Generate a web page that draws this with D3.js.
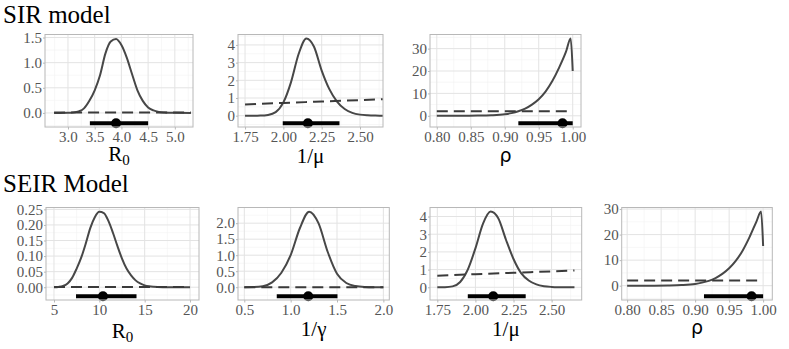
<!DOCTYPE html>
<html lang="en">
<head>
<meta charset="UTF-8">
<title>SIR / SEIR posteriors</title>
<script src="https://d3js.org/d3.v7.min.js"></script>
<style>
  body { margin: 0; background: #fff; }
  svg text { font-family: "Liberation Serif", "DejaVu Serif", serif; }
</style>
</head>
<body>
<svg id="chart" width="789" height="349" font-family="Liberation Serif, serif"></svg>
<script>
// ---- data: [x, density] ----
const sirR0Post = [[2.74,0],[3.0,0.002],[3.1,0.008],[3.2,0.03],[3.3,0.09],[3.4,0.24],[3.5,0.45],[3.6,0.75],[3.7,1.18],[3.8,1.42],[3.9,1.47],[4.0,1.35],[4.1,1.1],[4.2,0.77],[4.3,0.45],[4.4,0.24],[4.5,0.11],[4.6,0.05],[4.7,0.02],[4.8,0.008],[4.9,0.003],[5.0,0.001],[5.3,0]];
const sirR0Prior = [[2.74,0.01],[4.0,0.01],[5.3,0.01]];
const sirR0Int = [3.41, 3.90, 4.50];   // lower, point, upper

const sirMuPost = [[1.75,0],[1.80,0.001],[1.85,0.005],[1.90,0.04],[1.95,0.2],[2.00,0.75],[2.05,1.9],[2.10,3.5],[2.15,4.37],[2.20,3.9],[2.25,2.55],[2.30,1.5],[2.35,0.8],[2.40,0.38],[2.45,0.16],[2.50,0.06],[2.55,0.02],[2.60,0.005],[2.65,0.001]];
const sirMuPrior = [[1.75,0.63],[2.0,0.72],[2.25,0.8],[2.5,0.88],[2.65,0.93]];
const sirMuInt = [1.996, 2.16, 2.366];

const sirRhoPost = [[0.80,0],[0.84,0.02],[0.86,0.08],[0.88,0.25],[0.90,0.7],[0.91,1.2],[0.92,2.0],[0.93,3.2],[0.94,5.0],[0.95,7.4],[0.96,10.8],[0.97,15.5],[0.98,21.5],[0.99,28.5],[0.997,34.5],[1.0,20]];
const sirRhoPrior = [[0.80,2],[0.90,2],[1.0,2]];
const sirRhoInt = [0.92, 0.985, 1.0];

const seirR0Post = [[5,0],[5.5,0.001],[6,0.004],[6.5,0.012],[7,0.03],[7.5,0.06],[8,0.095],[8.5,0.14],[9,0.19],[9.5,0.225],[10,0.242],[10.5,0.238],[11,0.213],[11.5,0.175],[12,0.132],[12.5,0.092],[13,0.06],[13.5,0.038],[14,0.022],[14.5,0.012],[15,0.006],[15.5,0.003],[16,0.0015],[17,0.0003],[18,0],[20,0]];
const seirR0Prior = [[5,0.001],[12.5,0.001],[20,0.001]];
const seirR0Int = [7.43, 10.4, 14.1];

const seirGamPost = [[0.5,0],[0.6,0.003],[0.7,0.03],[0.8,0.15],[0.9,0.45],[1.0,1.0],[1.1,1.85],[1.2,2.36],[1.3,2.0],[1.4,1.1],[1.5,0.42],[1.6,0.13],[1.7,0.035],[1.8,0.008],[1.9,0.001],[2.0,0]];
const seirGamPrior = [[0.5,0.002],[1.25,0.002],[2.0,0.002]];
const seirGamInt = [0.85, 1.19, 1.505];

const seirMuPost = [[1.75,0],[1.80,0.005],[1.85,0.05],[1.90,0.3],[1.95,1.0],[2.00,2.2],[2.05,3.6],[2.10,4.28],[2.15,3.9],[2.20,2.7],[2.25,1.6],[2.30,0.8],[2.35,0.38],[2.40,0.16],[2.45,0.06],[2.50,0.02],[2.55,0.006],[2.60,0.002],[2.65,0]];
const seirMuPrior = [[1.75,0.65],[2.0,0.74],[2.25,0.82],[2.5,0.9],[2.65,0.95]];
const seirMuInt = [1.95, 2.117, 2.33];

const seirRhoPost = [[0.80,0],[0.84,0.02],[0.86,0.08],[0.88,0.25],[0.90,0.7],[0.91,1.2],[0.92,1.9],[0.93,3.0],[0.94,4.6],[0.95,6.8],[0.96,9.8],[0.97,13.8],[0.98,19],[0.99,25],[0.997,29],[1.0,15.5]];
const seirRhoPrior = [[0.80,2],[0.90,2],[1.0,2]];
const seirRhoInt = [0.913, 0.983, 1.0];

// ---- tick labels ----
const r0SirXTicks = [3.0, 3.5, 4.0, 4.5, 5.0];
const r0SirYTicks = [0.0, 0.5, 1.0, 1.5];
const muXTicks = [1.75, 2.00, 2.25, 2.50];
const muYTicks = [0, 1, 2, 3, 4];
const rhoXTicks = [0.80, 0.85, 0.90, 0.95, 1.00];
const rhoYTicks = [0, 10, 20, 30];
const r0SeirXTicks = [5, 10, 15, 20];
const r0SeirYTicks = [0.00, 0.05, 0.10, 0.15, 0.20, 0.25];
const gamXTicks = [0.5, 1.0, 1.5, 2.0];
const gamYTicks = [0.0, 0.5, 1.0, 1.5, 2.0];

const titles = ["SIR model", "SEIR Model"];

const serif = '"Liberation Serif", "DejaVu Serif", serif';

// ---- panel layout (box = left, top, right, bottom; lab = title offset below panel) ----
const panels = [
  { post: sirR0Post, prior: sirR0Prior, int: sirR0Int, xd: [2.57, 5.34], yd: [-0.28, 1.56],
    xt: r0SirXTicks, yt: r0SirYTicks, xf: ".1f", yf: ".1f", label: "R0", box: [45, 34.5, 193, 127], lab: 34 },
  { post: sirMuPost, prior: sirMuPrior, int: sirMuInt, xd: [1.704, 2.65], yd: [-0.64, 4.59],
    xt: muXTicks, yt: muYTicks, xf: ".2f", yf: "d", label: "1/μ", box: [238, 34.5, 383, 127], lab: 36 },
  { post: sirRhoPost, prior: sirRhoPrior, int: sirRhoInt, xd: [0.790, 1.0122], yd: [-5.0, 36.3],
    xt: rhoXTicks, yt: rhoYTicks, xf: ".2f", yf: "d", label: "ρ", box: [430, 34.5, 581, 127], lab: 35 },
  { post: seirR0Post, prior: seirR0Prior, int: seirR0Int, xd: [4.12, 20.99], yd: [-0.041, 0.256],
    xt: r0SeirXTicks, yt: r0SeirYTicks, xf: "d", yf: ".2f", label: "R0", box: [46, 207.5, 199, 300], lab: 38 },
  { post: seirGamPost, prior: seirGamPrior, int: seirGamInt, xd: [0.432, 2.064], yd: [-0.40, 2.49],
    xt: gamXTicks, yt: gamYTicks, xf: ".1f", yf: ".1f", label: "1/γ", box: [238, 207.5, 389.3, 300], lab: 36 },
  { post: seirMuPost, prior: seirMuPrior, int: seirMuInt, xd: [1.702, 2.6975], yd: [-0.72, 4.51],
    xt: muXTicks, yt: muYTicks, xf: ".2f", yf: "d", label: "1/μ", box: [430, 207.5, 581.7, 300], lab: 36 },
  { post: seirRhoPost, prior: seirRhoPrior, int: seirRhoInt, xd: [0.792, 1.0135], yd: [-5.6, 30.6],
    xt: rhoXTicks, yt: rhoYTicks, xf: ".2f", yf: "d", label: "ρ", box: [621.7, 207.5, 772.3, 300], lab: 34 }
];

const svg = d3.select("#chart");

// row titles
svg.append("text").attr("x", 3).attr("y", 23).text(titles[0])
  .style("font-family", serif).style("font-size", "25px").attr("fill", "#000");
svg.append("text").attr("x", 3).attr("y", 192).text(titles[1])
  .style("font-family", serif).style("font-size", "25px").attr("fill", "#000");

function minorTicks(ticks, domain) {
  const step = ticks[1] - ticks[0];
  const out = [ticks[0] - step / 2];
  ticks.forEach(t => out.push(t + step / 2));
  return out.filter(v => v > domain[0] && v < domain[1]);
}

panels.forEach(p => {
  const [l, t, r, b] = p.box;
  const x = d3.scaleLinear().domain(p.xd).range([l, r]);
  const y = d3.scaleLinear().domain(p.yd).range([b, t]);
  const g = svg.append("g");

  // grid: minor then major
  const grid = g.append("g");
  minorTicks(p.xt, p.xd).forEach(v => grid.append("line")
    .attr("x1", x(v)).attr("x2", x(v)).attr("y1", t).attr("y2", b)
    .attr("stroke", "#f2f2f2").attr("stroke-width", 0.6));
  minorTicks(p.yt, p.yd).forEach(v => grid.append("line")
    .attr("y1", y(v)).attr("y2", y(v)).attr("x1", l).attr("x2", r)
    .attr("stroke", "#f2f2f2").attr("stroke-width", 0.6));
  p.xt.forEach(v => grid.append("line")
    .attr("x1", x(v)).attr("x2", x(v)).attr("y1", t).attr("y2", b)
    .attr("stroke", "#e3e3e3").attr("stroke-width", 1));
  p.yt.forEach(v => grid.append("line")
    .attr("y1", y(v)).attr("y2", y(v)).attr("x1", l).attr("x2", r)
    .attr("stroke", "#e3e3e3").attr("stroke-width", 1));

  const line = d3.line().x(d => x(d[0])).y(d => y(d[1])).curve(d3.curveMonotoneX);

  // posterior density
  g.append("path").datum(p.post).attr("d", line)
    .attr("fill", "none").attr("stroke", "#474747").attr("stroke-width", 2);
  // prior density
  g.append("path").datum(p.prior).attr("d", line)
    .attr("fill", "none").attr("stroke", "#3a3a3a").attr("stroke-width", 2)
    .attr("stroke-dasharray", "11,6");

  // point interval
  const iy = b - 3.8;
  g.append("line").attr("x1", x(p.int[0])).attr("x2", x(p.int[2]))
    .attr("y1", iy).attr("y2", iy).attr("stroke", "#000").attr("stroke-width", 4);
  g.append("circle").attr("cx", x(p.int[1])).attr("cy", iy).attr("r", 5).attr("fill", "#000");

  // panel border
  g.append("rect").attr("x", l).attr("y", t).attr("width", r - l).attr("height", b - t)
    .attr("fill", "none").attr("stroke", "#b8b8b8").attr("stroke-width", 1);

  // axes
  const xa = g.append("g").attr("transform", `translate(0,${b})`)
    .call(d3.axisBottom(x).tickValues(p.xt).tickFormat(d3.format(p.xf)).tickSize(2.5).tickPadding(1.5));
  const ya = g.append("g").attr("transform", `translate(${l},0)`)
    .call(d3.axisLeft(y).tickValues(p.yt).tickFormat(d3.format(p.yf)).tickSize(2).tickPadding(1));
  [xa, ya].forEach(a => {
    a.attr("font-family", null).attr("font-size", null);
    a.select(".domain").remove();
    a.selectAll(".tick line").attr("stroke", "#b8b8b8");
    a.selectAll(".tick text").attr("fill", "#555")
      .style("font-size", "15px").style("font-family", serif);
  });

  // axis title
  const lab = g.append("text").attr("x", (l + r) / 2).attr("y", b + p.lab)
    .attr("text-anchor", "middle").attr("fill", "#000")
    .style("font-size", "21px").style("font-family", serif);
  if (p.label === "R0") {
    lab.append("tspan").text("R");
    lab.append("tspan").text("0").attr("dy", 4).style("font-size", "15px");
  } else if (p.label === "ρ") {
    lab.text("ρ").style("font-family", '"DejaVu Sans", sans-serif').style("font-size", "19px");
  } else {
    lab.text(p.label);
  }
});
</script>
</body>
</html>
